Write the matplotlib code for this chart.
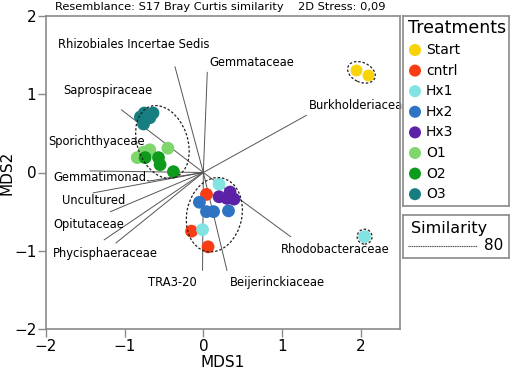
import matplotlib.pyplot as plt
from matplotlib.patches import Ellipse

# sample scores (MDS1, MDS2)
groups = ["Start", "cntrl", "Hx1", "Hx2", "Hx3", "O1", "O2", "O3"]
colors = ["#F7D308", "#FA3C14", "#82E3E3", "#2F74C2", "#5B21A6",
          "#7ED66C", "#0E9A1A", "#167E80"]
start_x = [1.94, 2.09]
start_y = [1.31, 1.24]
cntrl_x = [0.04, -0.15, 0.06]
cntrl_y = [-0.28, -0.75, -0.95]
hx1_x = [0.20, -0.01, 2.05]
hx1_y = [-0.15, -0.73, -0.82]
hx2_x = [-0.05, 0.04, 0.13, 0.32]
hx2_y = [-0.38, -0.50, -0.50, -0.49]
hx3_x = [0.20, 0.34, 0.30, 0.39]
hx3_y = [-0.31, -0.25, -0.33, -0.34]
o1_x = [-0.68, -0.76, -0.45, -0.84]
o1_y = [0.29, 0.26, 0.31, 0.19]
o2_x = [-0.74, -0.57, -0.55, -0.38]
o2_y = [0.19, 0.19, 0.10, 0.01]
o3_x = [-0.80, -0.75, -0.64, -0.68, -0.76]
o3_y = [0.71, 0.76, 0.76, 0.70, 0.62]

xs = [start_x, cntrl_x, hx1_x, hx2_x, hx3_x, o1_x, o2_x, o3_x]
ys = [start_y, cntrl_y, hx1_y, hx2_y, hx3_y, o1_y, o2_y, o3_y]

# taxa vectors (end points) and their labels
vec_x = [-0.36, 0.05, -1.04, 1.31, -1.44, -0.70, -1.40, -1.18, -1.26,
         -1.11, -0.01, 0.30, 1.11]
vec_y = [1.35, 1.28, 0.80, 0.73, 0.02, -0.11, -0.26, -0.50, -0.86,
         -0.90, -1.25, -1.25, -0.82]
taxa = ["Rhizobiales Incertae Sedis", "Gemmataceae", "Saprospiraceae",
        "Burkholderiaceae", "Sporichthyaceae", "Gemmatimonad.", "Uncultured",
        "Opitutaceae", "Phycisphaeraceae", "TRA3-20", "Beijerinckiaceae",
        "Rhodobacteraceae"]
taxa_x = [-1.85, 0.08, -1.78, 1.34, -1.97, -1.91, -1.80, -1.91, -1.91,
          -0.70, 0.34, 0.98]
taxa_y = [1.64, 1.40, 1.05, 0.86, 0.39, -0.07, -0.36, -0.67, -1.03,
          -1.41, -1.41, -0.99]

# 80% similarity contours: centre x, centre y, width, height, angle
ell_x = [-0.52, 0.14, 2.01, 2.05]
ell_y = [0.39, -0.54, 1.28, -0.82]
ell_w = [0.64, 0.70, 0.37, 0.19]
ell_h = [0.96, 0.96, 0.25, 0.19]
ell_a = [19, -12, -25, 0]

spine_c = "#8a8a8a"

fig = plt.figure(figsize=(5.12, 3.74), dpi=100)
ax = fig.add_axes([46 / 512, 1 - 329 / 374, 354 / 512, 313 / 374])

for vx, vy in zip(vec_x, vec_y):
    ax.plot([0, vx], [0, vy], color="#555555", lw=0.7, zorder=1)

for t, tx, ty in zip(taxa, taxa_x, taxa_y):
    ax.text(tx, ty, t, fontsize=8.3, va="center", ha="left", zorder=2)

for cx, cy, w, h, a in zip(ell_x, ell_y, ell_w, ell_h, ell_a):
    ax.add_patch(Ellipse((cx, cy), w, h, angle=a, fill=False,
                         ls=(0, (2, 1.5)), lw=0.9, color="#222222", zorder=4))

for g, c, x, y in zip(groups, colors, xs, ys):
    ec = "white" if g == "Start" else "none"
    ax.scatter(x, y, s=85, color=c, edgecolors=ec, linewidths=0.6, zorder=3)

ax.set_xlim(-2, 2.5)
ax.set_ylim(-2, 2)
ax.set_xticks([-2, -1, 0, 1, 2])
ax.set_yticks([-2, -1, 0, 1, 2])
ax.tick_params(labelsize=11, color=spine_c, length=6, width=1, pad=1)
for s in ax.spines.values():
    s.set_color(spine_c)
    s.set_linewidth(1.2)
ax.set_xlabel("MDS1", fontsize=11, labelpad=1)
ax.set_ylabel("MDS2", fontsize=11)
ax.yaxis.set_label_coords(-0.088, 0.5)

fig.text(55 / 512, 1 - 7 / 374,
         "Resemblance: S17 Bray Curtis similarity    2D Stress: 0,09",
         fontsize=8.2, va="center", ha="left")

# treatments legend panel
lg = fig.add_axes([403 / 512, 1 - 206 / 374, 106 / 512, 190 / 374])
lg.set_xlim(0, 106)
lg.set_ylim(190, 0)
lg.set_xticks([])
lg.set_yticks([])
for s in lg.spines.values():
    s.set_color(spine_c)
    s.set_linewidth(1.2)
lg.text(5, 12, "Treatments", fontsize=12.5, va="center", ha="left")
for i, (g, c) in enumerate(zip(groups, colors)):
    yy = 34 + i * 20.6
    lg.scatter([12], [yy], s=75, color=c, edgecolors="none", clip_on=False)
    lg.text(23, yy, g, fontsize=10, va="center", ha="left")

# similarity legend panel
sm = fig.add_axes([403 / 512, 1 - 258 / 374, 106 / 512, 43 / 374])
sm.set_xlim(0, 106)
sm.set_ylim(43, 0)
sm.set_xticks([])
sm.set_yticks([])
for s in sm.spines.values():
    s.set_color(spine_c)
    s.set_linewidth(1.2)
sm.text(8, 13, "Similarity", fontsize=11.5, va="center", ha="left")
sm.plot([5, 74], [31, 31], color="#444444", lw=0.8, ls=(0, (1, 0.6)))
sm.text(81, 31, "80", fontsize=11, va="center", ha="left")

fig.savefig("out.png", dpi=100)
